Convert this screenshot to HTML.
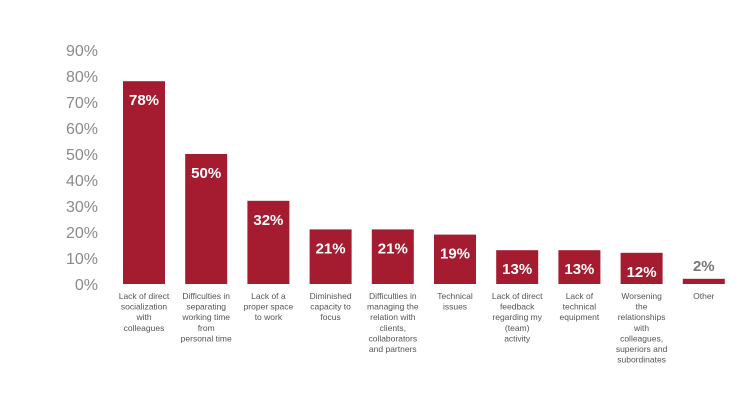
<!DOCTYPE html>
<html><head><meta charset="utf-8"><style>
body{margin:0;background:#fff;font-family:"Liberation Sans",sans-serif;}
svg{display:block}
</style></head><body>
<svg id="c" width="739" height="400"></svg>
<script>
const categories=[["Lack of direct","socialization","with","colleagues"],["Difficulties in","separating","working time","from","personal time"],["Lack of a","proper space","to work"],["Diminished","capacity to","focus"],["Difficulties in","managing the","relation with","clients,","collaborators","and partners"],["Technical","issues"],["Lack of direct","feedback","regarding my","(team)","activity"],["Lack of","technical","equipment"],["Worsening","the","relationships","with","colleagues,","superiors and","subordinates"],["Other"]];
const values=[78,50,32,21,21,19,13,13,12,2];
const ticks=[0,10,20,30,40,50,60,70,80,90];
const NS="http://www.w3.org/2000/svg";
const svg=document.getElementById('c');
const base=284,k=2.6,x0=144,step=62.2,bw=42;
const y=v=>base-v*k;
const xc=i=>x0+i*step;
function mk(t,a){const e=document.createElementNS(NS,t);for(const n in a)e.setAttribute(n,a[n]);svg.appendChild(e);return e;}
ticks.forEach(t=>{
 const e=mk('text',{x:98,y:y(t)+6,'text-anchor':'end','font-size':16,fill:'#8a8a8a'});
 e.textContent=t+'%';
 
 
});
values.forEach((v,i)=>{
 const r=mk('rect',{x:xc(i)-bw/2,y:y(v),width:bw,height:v*k,fill:'#a51c30'});
 
 
 const inside=v*k>30;
 const l=mk('text',{x:xc(i),y:inside?y(v)+24:y(v)-8,'text-anchor':'middle','font-size':15,'font-weight':'bold',fill:inside?'#fff':'#777'});
 l.textContent=v+'%';
 
 
 categories[i].forEach((s,j)=>{
  const c=mk('text',{x:xc(i),y:299+j*10.6,'text-anchor':'middle','font-size':8.5,fill:'#555'});
  c.textContent=s;
  
  
 });
});
</script>
</body></html>
